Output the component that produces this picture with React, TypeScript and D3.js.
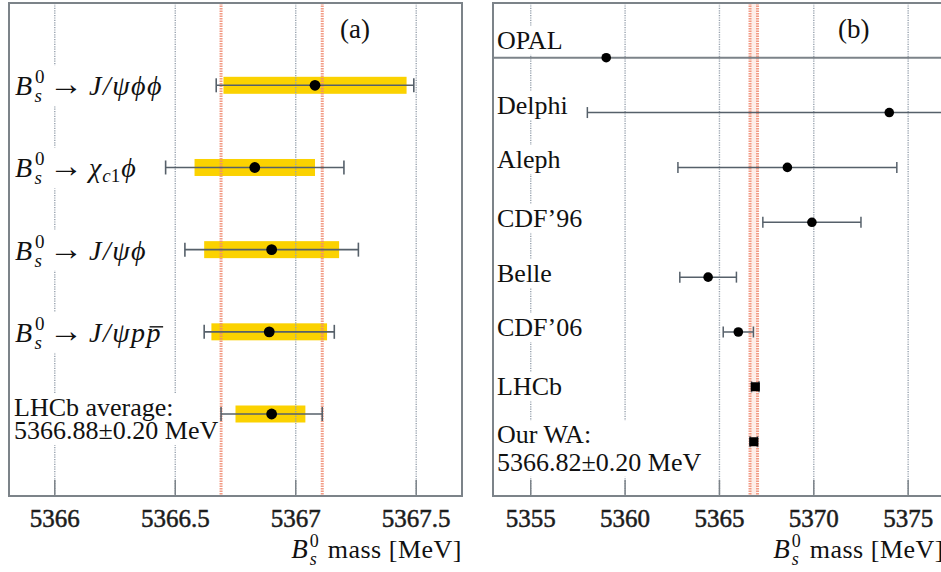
import React, { useEffect, useRef } from 'react';
import * as d3 from 'd3';

// ---------- Panel (a): LHCb measurements ----------
const decaysA = ['J/ψϕϕ', 'χc1ϕ', 'J/ψϕ', 'J/ψpp̄', 'LHCb average'];
const massA = [5367.08, 5366.83, 5366.9, 5366.89, 5366.9];
const statLoA = [5366.7, 5366.58, 5366.62, 5366.65, 5366.75];
const statHiA = [5367.46, 5367.08, 5367.18, 5367.13, 5367.04];
const totLoA = [5366.67, 5366.46, 5366.54, 5366.62, 5366.69];
const totHiA = [5367.49, 5367.2, 5367.26, 5367.16, 5367.11];
const bandA = [5366.69, 5367.11];
const ticksA = [5366, 5366.5, 5367, 5367.5];
const avgTextA = ['LHCb average:', '5366.88±0.20 MeV'];

// ---------- Panel (b): world measurements ----------
const expsB = ['OPAL', 'Delphi', 'Aleph', 'CDF’96', 'Belle', 'CDF’06', 'LHCb', 'Our WA:'];
const massB = [5359.0, 5374.0, 5368.6, 5369.9, 5364.4, 5366.0, 5366.9, 5366.82];
const errB = [20, 16, 5.8, 2.6, 1.5, 0.8, 0.2, 0.2];
const markerB = ['circle', 'circle', 'circle', 'circle', 'circle', 'circle', 'square', 'square'];
const bandB = [5366.62, 5367.02];
const ticksB = [5355, 5360, 5365, 5370, 5375];
const waTextB = '5366.82±0.20 MeV';

const SERIF = 'Liberation Serif, DejaVu Serif, serif';
const GRID = '#98a2ae';
const RED = '#f08a70';
const FRAME = '#7c8389';
const BAR = '#56606a';
const YELLOW = '#fbd200';

export default function App() {
  const ref = useRef<SVGSVGElement>(null);

  useEffect(() => {
    const svg = d3.select(ref.current);
    svg.selectAll('*').remove();

    const A = { l: 9, r: 462, t: 3, b: 496 };
    const B = { l: 493, r: 944, t: 3, b: 496 };
    const xA = d3.scaleLinear().domain([5365.81, 5367.69]).range([A.l, A.r]);
    const xB = d3.scaleLinear().domain([5353, 5376.9]).range([B.l, B.r]);
    const yA = d3.scalePoint<number>().domain(d3.range(massA.length)).range([85.3, 414]);
    const yB = d3.scalePoint<number>().domain(d3.range(massB.length)).range([57.7, 441.7]);

    const defs = svg.append('defs');
    defs.append('clipPath').attr('id', 'clipA').append('rect')
      .attr('x', A.l).attr('y', A.t).attr('width', A.r - A.l).attr('height', A.b - A.t);
    defs.append('clipPath').attr('id', 'clipB').append('rect')
      .attr('x', B.l).attr('y', B.t).attr('width', B.r - B.l).attr('height', B.b - B.t);

    const gA = svg.append('g').attr('clip-path', 'url(#clipA)');
    const gB = svg.append('g').attr('clip-path', 'url(#clipB)');

    // ---- yellow stat bands (a)
    gA.selectAll('rect.stat').data(massA).join('rect').attr('class', 'stat')
      .attr('x', (_, i) => xA(statLoA[i]))
      .attr('width', (_, i) => xA(statHiA[i]) - xA(statLoA[i]))
      .attr('y', (_, i) => (yA(i) as number) - 8.5)
      .attr('height', 17)
      .attr('fill', YELLOW);

    // ---- gridlines
    const grid = (g: any, ticks: number[], x: any, P: any) => {
      g.selectAll('line.grid').data(ticks).join('line').attr('class', 'grid')
        .attr('x1', (d: number) => x(d)).attr('x2', (d: number) => x(d))
        .attr('y1', P.t).attr('y2', P.b)
        .attr('stroke', GRID).attr('stroke-width', 1.4).attr('stroke-dasharray', '1.2,1.2');
    };
    grid(gA, ticksA, xA, A);
    grid(gB, ticksB, xB, B);

    // ---- labels with white backgrounds
    const addBg = (g: any) => {
      const bb = (g.node() as SVGGElement).getBBox();
      g.insert('rect', ':first-child')
        .attr('x', bb.x - 1).attr('y', bb.y).attr('width', bb.width + 2).attr('height', bb.height)
        .attr('fill', '#fff');
    };

    const mathPrefix = (t: any) => {
      t.append('tspan').attr('font-style', 'italic').attr('font-size', 28).text('B');
      t.append('tspan').attr('font-size', 19).attr('dy', -12).attr('dx', 3).text('0');
      t.append('tspan').attr('font-size', 19).attr('font-style', 'italic').attr('dy', 19).attr('dx', -10).text('s');
      t.append('tspan').attr('dy', -7).attr('dx', 7).attr('font-size', 34).text('→');
    };

    decaysA.forEach((d, i) => {
      const g = svg.append('g');
      if (i < 4) {
        const t = g.append('text').attr('x', 15).attr('y', (yA(i) as number) + 10)
          .attr('font-family', SERIF).attr('font-size', 28).attr('fill', '#111');
        mathPrefix(t);
        if (d.startsWith('χ')) {
          t.append('tspan').attr('dx', 6).attr('font-style', 'italic').text('χ');
          t.append('tspan').attr('font-size', 19).attr('dy', 5).attr('dx', 1).attr('font-style', 'italic').text('c');
          t.append('tspan').attr('font-size', 19).text('1');
          t.append('tspan').attr('dy', -5).attr('dx', 1).attr('font-style', 'italic').text('ϕ');
        } else if (d.endsWith('p̄')) {
          t.append('tspan').attr('dx', 6).attr('font-style', 'italic').attr('letter-spacing', 1.5).text('J/ψpp');
          const node = t.node() as SVGTextElement;
          const n = node.getNumberOfChars();
          const s = node.getStartPositionOfChar(n - 1);
          const e = node.getEndPositionOfChar(n - 1);
          g.append('line').attr('x1', s.x + 3).attr('x2', e.x + 1).attr('y1', s.y - 15).attr('y2', s.y - 15)
            .attr('stroke', '#111').attr('stroke-width', 1.4);
        } else {
          t.append('tspan').attr('dx', 6).attr('font-style', 'italic').attr('letter-spacing', 1.5).text(d);
        }
      } else {
        const y0 = yA(i) as number;
        const t = g.append('text').attr('font-family', SERIF).attr('font-size', 26).attr('fill', '#111');
        t.append('tspan').attr('x', 14).attr('y', y0 + 2).text(avgTextA[0]);
        t.append('tspan').attr('x', 14).attr('y', y0 + 25).text(avgTextA[1]);
      }
      addBg(g);
    });

    const labelDyB = [-9, 1.5, 0.5, 4.5, 5, 4, 8, 1.6];
    expsB.forEach((d, i) => {
      const g = svg.append('g');
      const t = g.append('text').attr('font-family', SERIF).attr('font-size', 26).attr('fill', '#111');
      const y0 = (yB(i) as number) + labelDyB[i];
      t.append('tspan').attr('x', 497).attr('y', y0).text(d);
      if (i === expsB.length - 1) t.append('tspan').attr('x', 497).attr('y', y0 + 27.5).text(waTextB);
      addBg(g);
    });

    // ---- red average bands
    const redLines = (g: any, vals: number[], x: any, P: any, w: number) => {
      g.selectAll('line.red').data(vals).join('line').attr('class', 'red')
        .attr('x1', (d: number) => x(d)).attr('x2', (d: number) => x(d))
        .attr('y1', P.t).attr('y2', P.b)
        .attr('stroke', RED).attr('stroke-width', w).attr('stroke-dasharray', '1.5,1')
        .attr('opacity', 0.85);
    };
    gB.append('rect').attr('x', xB(bandB[0])).attr('width', xB(bandB[1]) - xB(bandB[0]))
      .attr('y', B.t).attr('height', B.b - B.t).attr('fill', '#fde3da').attr('opacity', 0.6);
    redLines(gA, bandA, xA, A, 3);
    redLines(gB, bandB, xB, B, 3);

    // ---- error bars (a)
    const capA = 7;
    massA.forEach((m, i) => {
      const y = yA(i) as number;
      gA.append('line').attr('x1', xA(totLoA[i])).attr('x2', xA(totHiA[i])).attr('y1', y).attr('y2', y)
        .attr('stroke', BAR).attr('stroke-width', 1.6);
      [totLoA[i], totHiA[i]].forEach((v) => {
        gA.append('line').attr('x1', xA(v)).attr('x2', xA(v)).attr('y1', y - capA).attr('y2', y + capA)
          .attr('stroke', BAR).attr('stroke-width', 1.6);
      });
      gA.append('circle').attr('cx', xA(m)).attr('cy', y).attr('r', 5.4).attr('fill', '#000');
    });

    // ---- error bars (b)
    const capB = 5.5;
    massB.forEach((m, i) => {
      const y = yB(i) as number;
      const lo = m - errB[i], hi = m + errB[i];
      gB.append('line').attr('x1', xB(lo)).attr('x2', xB(hi)).attr('y1', y).attr('y2', y)
        .attr('stroke', i === 0 ? FRAME : BAR).attr('stroke-width', i === 0 ? 2 : 1.5);
      [lo, hi].forEach((v) => {
        gB.append('line').attr('x1', xB(v)).attr('x2', xB(v)).attr('y1', y - capB).attr('y2', y + capB)
          .attr('stroke', BAR).attr('stroke-width', 1.5);
      });
      if (markerB[i] === 'square') {
        gB.append('rect').attr('x', xB(m) - 4.5).attr('y', y - 4.5).attr('width', 9).attr('height', 9)
          .attr('rx', 1).attr('fill', '#000');
      } else {
        gB.append('circle').attr('cx', xB(m)).attr('cy', y).attr('r', 4.8).attr('fill', '#000');
      }
    });

    // ---- frames, ticks, tick labels, titles
    const frame = (P: any, x: any, ticks: number[], fmt: (d: number) => string) => {
      svg.append('rect').attr('x', P.l).attr('y', P.t).attr('width', P.r - P.l).attr('height', P.b - P.t)
        .attr('fill', 'none').attr('stroke', FRAME).attr('stroke-width', 2);
      svg.append('g').selectAll('line').data(ticks).join('line')
        .attr('x1', (d: number) => x(d)).attr('x2', (d: number) => x(d))
        .attr('y1', P.b - 16).attr('y2', P.b).attr('stroke', FRAME).attr('stroke-width', 1.5);
      svg.append('g').selectAll('text').data(ticks).join('text')
        .attr('x', (d: number) => x(d)).attr('y', 527).attr('text-anchor', 'middle')
        .attr('font-family', SERIF).attr('font-size', 25).attr('fill', '#1c1c1c')
        .attr('stroke', '#1c1c1c').attr('stroke-width', 0.5)
        .text((d: number) => fmt(d));
      const t = svg.append('text').attr('x', P.r).attr('y', 558).attr('text-anchor', 'end')
        .attr('font-family', SERIF).attr('font-size', 26).attr('fill', '#111');
      t.append('tspan').attr('font-style', 'italic').attr('font-size', 27).text('B');
      t.append('tspan').attr('font-size', 18).attr('dy', -11).attr('dx', 2).text('0');
      t.append('tspan').attr('font-size', 18).attr('font-style', 'italic').attr('dy', 18).attr('dx', -9).text('s');
      t.append('tspan').attr('dy', -7).attr('dx', 11).attr('letter-spacing', 0.5).text('mass [MeV]');
    };
    frame(A, xA, ticksA, (d) => String(d));
    frame(B, xB, ticksB, (d) => String(d));

    svg.append('text').attr('x', 340).attr('y', 38).attr('font-family', SERIF).attr('font-size', 27)
      .attr('fill', '#111').text('(a)');
    svg.append('text').attr('x', 838).attr('y', 38).attr('font-family', SERIF).attr('font-size', 27)
      .attr('fill', '#111').text('(b)');
  }, []);

  return (
    <div style={{ position: 'absolute', left: 0, top: 0, width: 941, height: 572, overflow: 'hidden', background: '#fff' }}>
      <svg ref={ref} width={941} height={572} style={{ display: 'block' }} />
    </div>
  );
}
